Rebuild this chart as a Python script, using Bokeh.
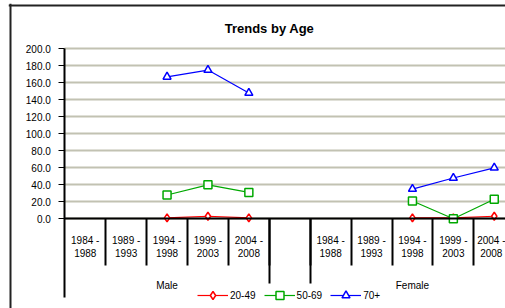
from bokeh.plotting import figure
from bokeh.models import (Range1d, LinearAxis, FixedTicker, NumeralTickFormatter,
                          Legend, LegendItem, ColumnDataSource, Grid, Label)
from bokeh.embed import file_html
from bokeh.resources import INLINE

# ---------------- data ----------------
title = "Trends by Age"
groups = ["Male", "Female"]
periods = ["1984 - 1988", "1989 - 1993", "1994 - 1998", "1999 - 2003", "2004 - 2008"]
series_names = ["20-49", "50-69", "70+"]

male_20_49 = [None, None, 1.0, 3.0, 1.0]
male_50_69 = [None, None, 28.0, 40.0, 31.0]
male_70 = [None, None, 167.0, 175.0, 148.0]
female_20_49 = [None, None, 1.0, 1.0, 3.0]
female_50_69 = [None, None, 21.0, 0.0, 23.0]
female_70 = [None, None, 35.0, 48.0, 60.0]

y_ticks = [0, 20, 40, 60, 80, 100, 120, 140, 160, 180, 200]

series_values = {
    "20-49": [male_20_49, female_20_49],
    "50-69": [male_50_69, female_50_69],
    "70+": [male_70, female_70],
}
colors = {"20-49": "#ff0000", "50-69": "#00a800", "70+": "#0000ff"}
markers = {"20-49": "diamond", "50-69": "square", "70+": "triangle"}
msizes = {"20-49": 8, "50-69": 8, "70+": 8}

FONT = "Liberation Sans"
n_per = len(periods)
gap = 1  # empty slot between the two groups


def slot(g, i):
    return g * (n_per + gap) + i + 0.5


centers = [slot(g, i) for g in range(len(groups)) for i in range(n_per)]
cat_labels = [p_.replace(" - ", " -\n") for _ in groups for p_ in periods]
boundaries = [float(k) for k in range(1, len(groups) * (n_per + gap))]
group_centers = [g * (n_per + gap) + n_per / 2 for g in range(len(groups))]
group_bounds = [float(n_per), float(n_per + gap)]

# layout constants (pixels -> data)
PX_X = 40.9     # px per category slot
PX_Y = 0.85     # px per value unit
X0_PX, Y0_PX = 64.3, 218.3   # pixel position of x=0 / y=0
W, H = 505, 308
FRAME_L, FRAME_T = 8, 3


def dx(px):
    return (px - X0_PX) / PX_X


def dy(py):
    return (Y0_PX - py) / PX_Y


x_end = dx(W)
p = figure(width=W, height=H,
           x_range=Range1d(dx(FRAME_L), x_end), y_range=Range1d(dy(H), dy(FRAME_T)),
           output_backend="svg", toolbar_location=None,
           x_axis_type=None, y_axis_type=None,
           min_border_left=FRAME_L, min_border_right=0, min_border_top=FRAME_T,
           min_border_bottom=0)
p.title.visible = False
p.outline_line_color = None
p.background_fill_color = "white"
p.border_fill_color = "white"

# chart-area border (left and top)
p.vspan(x=[dx(10)], line_color="#222222", line_width=2)
p.hspan(y=[dy(5)], line_color="#222222", line_width=2)

# title
p.add_layout(Label(x=dx(269), y=dy(28), text=title, text_align="center",
                   text_baseline="middle", text_font=FONT, text_font_style="bold",
                   text_font_size="13px", text_color="black"))

# grid
grid_kw = dict(dimension=1, ticker=FixedTicker(ticks=y_ticks, minor_ticks=[]),
               grid_line_color="#c2c2b2", grid_line_width=2)
if "cross_bounds" in Grid.properties():
    p.add_layout(Grid(cross_bounds=(0, x_end), **grid_kw))
else:
    p.segment(x0=[0] * len(y_ticks), x1=[x_end] * len(y_ticks), y0=y_ticks,
              y1=y_ticks, line_color="#c2c2b2", line_width=2, level="underlay")

# y axis at x = 0
yax = LinearAxis(
    fixed_location=0, bounds=(dy(297), 200),
    ticker=FixedTicker(ticks=y_ticks, minor_ticks=[]),
    formatter=NumeralTickFormatter(format="0.0"),
    axis_line_color="black", axis_line_width=2,
    major_tick_out=6, major_tick_in=0, major_tick_line_color="black",
    minor_tick_line_color=None, major_label_standoff=8,
    major_label_text_font=FONT, major_label_text_font_size="10px",
    major_label_text_color="black")
p.add_layout(yax, "left")

# category axis at y = 0
cat_axis = LinearAxis(
    fixed_location=0, bounds=(0, x_end),
    ticker=FixedTicker(ticks=centers, minor_ticks=boundaries),
    major_label_overrides={c: l for c, l in zip(centers, cat_labels)},
    axis_line_color="black", axis_line_width=2,
    major_tick_in=0, major_tick_out=0,
    minor_tick_in=0, minor_tick_out=47,
    minor_tick_line_color="black", minor_tick_line_width=2,
    major_label_standoff=-31,
    major_label_text_font=FONT, major_label_text_font_size="10px",
    major_label_text_color="black",
)
p.add_layout(cat_axis, "below")

# group axis
grp_axis = LinearAxis(
    fixed_location=dy(277), bounds=(0, x_end),
    ticker=FixedTicker(ticks=group_centers, minor_ticks=group_bounds),
    major_label_overrides={c: g for c, g in zip(group_centers, groups)},
    axis_line_color=None,
    major_tick_in=0, major_tick_out=0,
    minor_tick_in=59, minor_tick_out=6,
    minor_tick_line_color="black", minor_tick_line_width=2,
    major_label_standoff=-4,
    major_label_text_font=FONT, major_label_text_font_size="10px",
    major_label_text_color="black",
)
p.add_layout(grp_axis, "below")

# series
items = []
for name in series_names:
    first = None
    for g, vals in enumerate(series_values[name]):
        xs = [slot(g, i) for i, v in enumerate(vals) if v is not None]
        ys = [v for v in vals if v is not None]
        src = ColumnDataSource(dict(x=xs, y=ys))
        lr = p.line("x", "y", source=src, line_color=colors[name], line_width=1.2)
        sr = p.scatter("x", "y", source=src, marker=markers[name], size=msizes[name],
                       line_color=colors[name], fill_color="white", line_width=1.5)
        if first is None:
            first = [lr, sr]
    items.append(LegendItem(label=name, renderers=first))

legend = Legend(items=items, orientation="horizontal", location=(197 - FRAME_L, H - 305),
                glyph_width=31, glyph_height=20, label_standoff=2, spacing=8,
                padding=0, margin=0, border_line_color=None,
                background_fill_alpha=0,
                label_text_font=FONT, label_text_font_size="10px",
                label_text_color="black")
p.add_layout(legend)

open("out.html", "w").write(file_html(p, INLINE))
